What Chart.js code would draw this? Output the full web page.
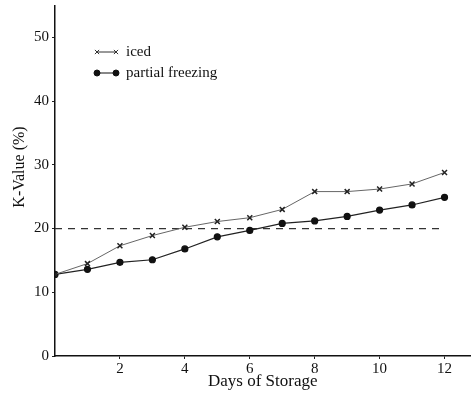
<!DOCTYPE html>
<html>
<head>
<meta charset="utf-8">
<script src="https://cdn.jsdelivr.net/npm/chart.js@4/dist/chart.umd.min.js"></script>
<style>
  body { margin: 0; background: #fff; }
  #wrap { width: 476px; height: 394px; }
</style>
</head>
<body>
<div id="wrap"><canvas id="mycanvas" width="476" height="394"></canvas></div>
<script>
var days = [0, 1, 2, 3, 4, 5, 6, 7, 8, 9, 10, 11, 12];
var iced = [12.8, 14.5, 17.3, 18.9, 20.2, 21.1, 21.7, 23.0, 25.8, 25.8, 26.2, 27.0, 28.8];
var partial = [12.8, 13.6, 14.7, 15.1, 16.8, 18.7, 19.7, 20.8, 21.2, 21.9, 22.9, 23.7, 24.9];
var limitDays = [0, 12];
var limitValue = [20, 20];
var xTicks = [2, 4, 6, 8, 10, 12];
var yTicks = [0, 10, 20, 30, 40, 50];

var serif = '"Liberation Serif", "DejaVu Serif", serif';

function pts(xs, ys) {
  var out = [];
  for (var i in xs) {
    out.push({ x: xs[i], y: ys[i] });
  }
  return out;
}

// legend drawn inside the plot, top left, plus the y title (sits above centre in the scan)
var legendPlugin = {
  id: 'insideLegend',
  afterDraw: function(chart) {
    var ctx = chart.ctx;
    var items = [
      { label: 'iced', style: 'crossRot', color: '#333' },
      { label: 'partial freezing', style: 'circle', color: '#111' }
    ];
    var x0 = 97, y0 = 52;
    ctx.save();
    ctx.font = '15px ' + serif;
    ctx.textBaseline = 'middle';
    for (var i = 0; i < items.length; i++) {
      var y = y0 + i * 21;
      ctx.strokeStyle = items[i].color;
      ctx.fillStyle = items[i].color;
      ctx.lineWidth = 1;
      ctx.beginPath();
      ctx.moveTo(x0, y);
      ctx.lineTo(x0 + 19, y);
      ctx.stroke();
      var opt = { pointStyle: items[i].style, radius: 3, borderWidth: 1.5 };
      Chart.helpers.drawPoint(ctx, opt, x0, y);
      Chart.helpers.drawPoint(ctx, opt, x0 + 19, y);
      ctx.fillStyle = '#111';
      ctx.fillText(items[i].label, x0 + 29, y);
    }
    ctx.translate(20, 167);
    ctx.rotate(-Math.PI / 2);
    ctx.textAlign = 'center';
    ctx.font = '16px ' + serif;
    ctx.fillStyle = '#111';
    ctx.fillText('K-Value (%)', 0, 0);
    ctx.restore();
  }
};

var ctx = document.getElementById('mycanvas');
var chart = new Chart(ctx, {
  type: 'scatter',
  data: {
    datasets: [
      {
        label: 'iced',
        data: pts(days, iced),
        showLine: true,
        borderColor: '#666',
        borderWidth: 1,
        pointStyle: 'crossRot',
        pointRadius: 3.5,
        pointBorderWidth: 1.5,
        pointBorderColor: '#222',
        pointBackgroundColor: '#222'
      },
      {
        label: 'partial freezing',
        data: pts(days, partial),
        showLine: true,
        borderColor: '#222',
        borderWidth: 1.2,
        pointStyle: 'circle',
        pointRadius: 3,
        pointBorderColor: '#111',
        pointBackgroundColor: '#111'
      },
      {
        label: 'limit',
        data: pts(limitDays, limitValue),
        showLine: true,
        borderColor: '#333',
        borderWidth: 1.2,
        borderDash: [7, 6],
        pointRadius: 0
      }
    ]
  },
  options: {
    responsive: false,
    animation: false,
    layout: { padding: { top: 5, right: 3, left: 0, bottom: 0 } },
    plugins: {
      legend: { display: false },
      tooltip: { enabled: false }
    },
    scales: {
      x: {
        type: 'linear',
        min: 0,
        max: 12.8,
        afterFit: function(s) { s.height = 38; s.paddingLeft = 0; s.paddingRight = 0; },
        afterBuildTicks: function(s) { s.ticks = xTicks.map(function(v) { return { value: v }; }); },
        grid: { display: true, drawOnChartArea: false, tickLength: 3, color: '#222' },
        border: { color: '#111', width: 1.5 },
        ticks: {
          color: '#111',
          padding: 1,
          maxRotation: 0,
          font: { family: serif, size: 15 }
        },
        title: {
          display: true,
          text: 'Days of Storage',
          color: '#111',
          padding: { top: 0, bottom: 2 },
          font: { family: serif, size: 17 }
        }
      },
      y: {
        min: 0,
        max: 55,
        afterFit: function(s) { s.width = 55; s.paddingTop = 0; s.paddingBottom = 0; },
        afterBuildTicks: function(s) { s.ticks = yTicks.map(function(v) { return { value: v }; }); },
        grid: { display: true, drawOnChartArea: false, tickLength: 3, color: '#222' },
        border: { color: '#111', width: 1.5 },
        ticks: {
          color: '#111',
          padding: 3,
          font: { family: serif, size: 15 }
        },
        title: { display: false }
      }
    }
  },
  plugins: [legendPlugin]
});
</script>
</body>
</html>
